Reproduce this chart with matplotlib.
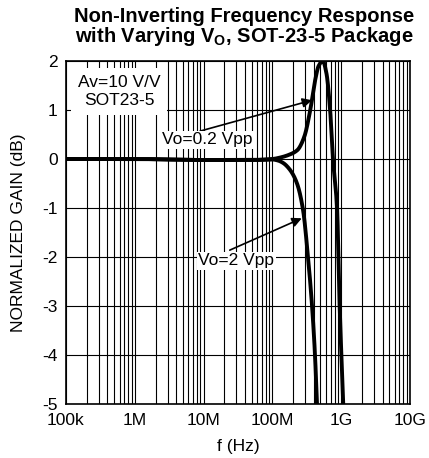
import numpy as np
import matplotlib
matplotlib.use("Agg")
import matplotlib.pyplot as plt
from matplotlib.ticker import FixedLocator, NullFormatter

plt.rcParams['font.family'] = ['Liberation Sans', 'DejaVu Sans']

# Frequency response data (Hz, dB)
freq_small = [1e5, 1e6, 1e7, 5e7, 1e8, 1.3e8, 1.7e8, 2.3e8, 2.9e8, 3.55e8,
              4.17e8, 4.7e8, 5.4e8, 6.1e8, 6.9e8, 7.6e8, 8.7e8, 9.5e8, 1.07e9]
gain_small = [0.0, 0.0, -0.02, -0.02, 0.0, 0.03, 0.08, 0.18, 0.45, 1.0,
              1.6, 1.9, 2.0, 1.75, 1.0, 0.0, -1.0, -3.0, -5.0]

freq_large = [1e5, 1e6, 1e7, 5e7, 1e8, 1.2e8, 1.43e8, 1.8e8, 2.28e8, 2.79e8,
              3.29e8, 3.77e8, 4.16e8, 4.45e8]
gain_large = [0.0, 0.0, -0.02, -0.02, -0.01, -0.03, -0.08, -0.22, -0.5, -1.04,
              -2.0, -3.0, -4.0, -5.0]

x_ticks = [1e5, 1e6, 1e7, 1e8, 1e9, 1e10]
x_labels = ["100k", "1M", "10M", "100M", "1G", "10G"]
y_ticks = [-5, -4, -3, -2, -1, 0, 1, 2]

FS = 12.5

fig = plt.figure(figsize=(4.29, 4.58), dpi=100)
ax = fig.add_axes([66/429, 1-404/458, 344/429, 343/458])
ax.set_xscale('log')
ax.set_xlim(1e5, 1e10)
ax.set_ylim(-5, 2)

# grid: major and minor decade lines
minor = [m * 10**d for d in range(5, 10) for m in range(2, 10)]
ax.xaxis.set_major_locator(FixedLocator(x_ticks))
ax.xaxis.set_minor_locator(FixedLocator(minor))
ax.xaxis.set_minor_formatter(NullFormatter())
ax.set_xticks(x_ticks)
ax.set_xticklabels(x_labels)
ax.set_yticks(y_ticks)
ax.set_yticklabels([str(v) for v in y_ticks])
ax.grid(True, which='both', axis='x', color='black', lw=0.8)
ax.grid(True, which='major', axis='y', color='black', lw=0.8)
ax.tick_params(which='both', length=0, labelsize=FS)
ax.tick_params(axis='x', pad=6.5)
ax.tick_params(axis='y', pad=6)
for s in ax.spines.values():
    s.set_linewidth(1.2)


def smooth(fx, gy):
    """Monotone cubic interpolation on a log-frequency axis."""
    lx = np.log10(fx)
    gy = np.asarray(gy, dtype=float)
    xs = np.linspace(lx[0], lx[-1], 1000)
    h = np.diff(lx)
    d = np.diff(gy) / h
    m = np.zeros(len(lx))
    for i in range(1, len(lx) - 1):
        if d[i-1] * d[i] > 0:
            w1 = 2*h[i] + h[i-1]
            w2 = h[i] + 2*h[i-1]
            m[i] = (w1 + w2) / (w1/d[i-1] + w2/d[i])
    m[0] = d[0]
    m[-1] = d[-1]
    idx = np.clip(np.searchsorted(lx, xs) - 1, 0, len(lx) - 2)
    t = (xs - lx[idx]) / h[idx]
    y0 = gy[idx]; y1 = gy[idx+1]
    h00 = 2*t**3 - 3*t**2 + 1; h10 = t**3 - 2*t**2 + t
    h01 = -2*t**3 + 3*t**2; h11 = t**3 - t**2
    ys = h00*y0 + h10*h[idx]*m[idx] + h01*y1 + h11*h[idx]*m[idx+1]
    return 10**xs, ys


fx, gy = smooth(freq_small, gain_small)
ax.plot(fx, gy, color='black', lw=2.8, zorder=3)
fx, gy = smooth(freq_large, gain_large)
ax.plot(fx, gy, color='black', lw=2.8, zorder=3)

# gain / package note
ax.text(5.9e5, 1.38, "Av=10 V/V\nSOT23-5", ha='center', va='center',
        fontsize=FS, linespacing=1.2, zorder=5,
        bbox=dict(facecolor='white', edgecolor='none', pad=5))

# curve labels with pointer arrows
ax.annotate("", xy=(3.77e8, 1.2), xytext=(8.9e6, 0.57),
            arrowprops=dict(arrowstyle='-|>', color='black', lw=1.2,
                            mutation_scale=14, shrinkA=0, shrinkB=0),
            zorder=4)
ax.text(1.12e7, 0.39, "Vo=0.2 Vpp", ha='center', va='center', fontsize=FS,
        zorder=5, bbox=dict(facecolor='white', edgecolor='none', pad=1))

ax.annotate("", xy=(2.67e8, -1.21), xytext=(2.4e7, -1.86),
            arrowprops=dict(arrowstyle='-|>', color='black', lw=1.2,
                            mutation_scale=14, shrinkA=0, shrinkB=0),
            zorder=4)
ax.text(3.0e7, -2.08, "Vo=2 Vpp", ha='center', va='center', fontsize=FS,
        zorder=5, bbox=dict(facecolor='white', edgecolor='none', pad=1))

ax.set_xlabel("f (Hz)", fontsize=FS, labelpad=8)
ax.set_ylabel("NORMALIZED GAIN (dB)", fontsize=FS, labelpad=12)

fig.text(244/429, 1-16.5/458, "Non-Inverting Frequency Response",
         ha='center', va='center', fontsize=14.5, fontweight='bold')
fig.text(244/429, 1-36/458, r"with Varying V$_\mathregular{O}$, SOT-23-5 Package",
         ha='center', va='center', fontsize=14.5, fontweight='bold')

fig.savefig("out.png", dpi=100)
